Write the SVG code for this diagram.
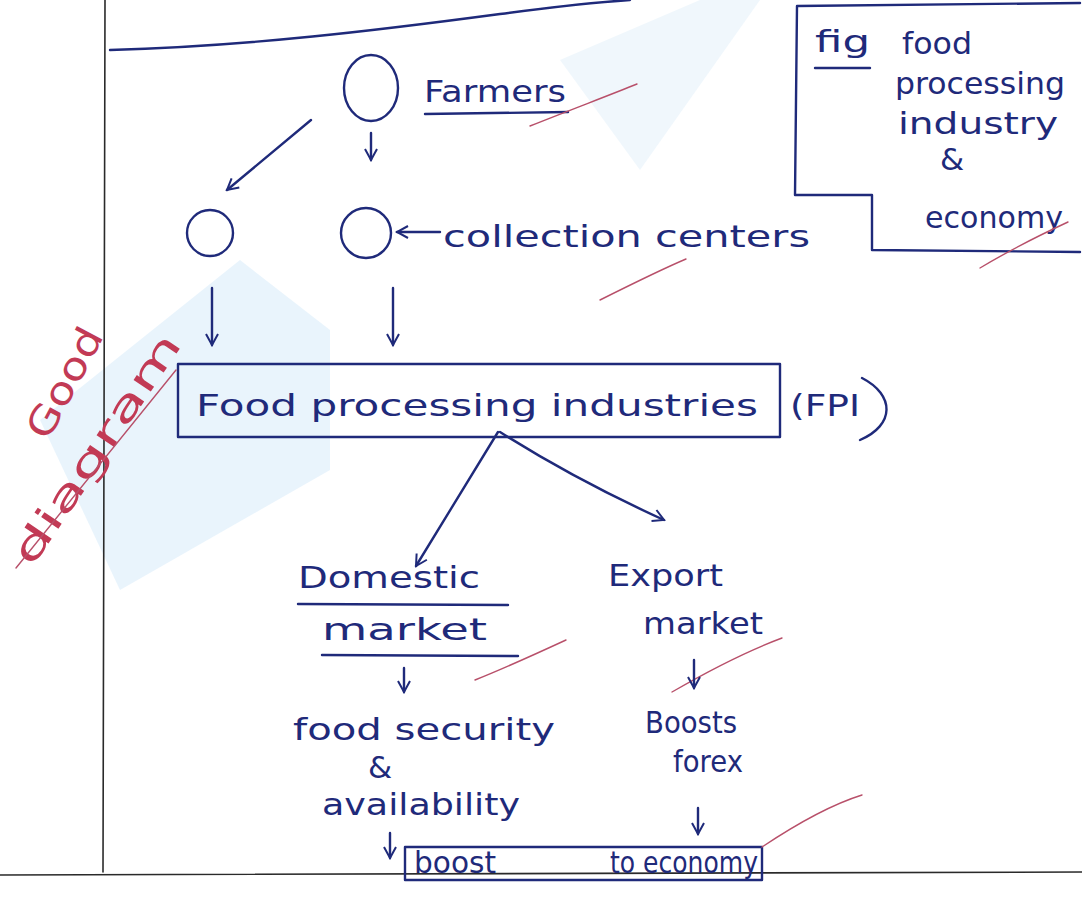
<svg xmlns="http://www.w3.org/2000/svg" width="1082" height="909" viewBox="0 0 1082 909">
  <defs>
    <style>
      .ink { fill: none; stroke: #1f2a7a; stroke-width: 2.4; stroke-linecap: round; stroke-linejoin: round; }
      .pencil { fill: none; stroke: #2a2a2a; stroke-width: 1.6; stroke-linecap: round; }
      .tick { fill: none; stroke: #b8506a; stroke-width: 1.4; stroke-linecap: round; }
      .hand { font-family: "DejaVu Sans", "Liberation Sans", sans-serif; fill: #1f2a7a; font-size: 31px; }
      .red { font-family: "DejaVu Sans", "Liberation Sans", sans-serif; fill: #c23a55; font-size: 38px; }
    </style>
    <marker id="head" viewBox="0 0 14 14" refX="12" refY="7" markerWidth="14" markerHeight="14" markerUnits="userSpaceOnUse" orient="auto">
      <path d="M1,1 L12,7 L1,13" fill="none" stroke="#1f2a7a" stroke-width="2"/>
    </marker>
  </defs>

  <rect width="1082" height="909" fill="#ffffff"/>

  <!-- faint background tint -->
  <polygon points="40,420 240,260 330,330 330,470 120,590" fill="#e3f1fb" opacity="0.8"/>
  <polygon points="560,60 700,0 760,0 640,170" fill="#eaf4fb" opacity="0.7"/>

  <!-- page rules -->
  <g id="page">
    <line class="pencil" x1="105" y1="0" x2="103" y2="872"/>
    <line class="pencil" x1="0" y1="875" x2="1082" y2="872"/>
    <path class="ink" d="M110,50 C250,46 380,30 500,14 C560,6 600,2 630,0" stroke="#333" stroke-width="2"/>
  </g>

  <!-- figure caption box -->
  <g id="caption">
    <path class="ink" d="M797,6 L1080,3 M797,6 L795,195 L872,195 L872,250 L1080,252"/>
    <text class="hand" x="815" y="52" textLength="55" lengthAdjust="spacingAndGlyphs">fig</text>
    <line class="ink" x1="815" y1="68" x2="870" y2="68"/>
    <text class="hand" x="902" y="54" textLength="70" lengthAdjust="spacingAndGlyphs">food</text>
    <text class="hand" x="895" y="94" textLength="170" lengthAdjust="spacingAndGlyphs">processing</text>
    <text class="hand" x="898" y="134" textLength="160" lengthAdjust="spacingAndGlyphs">industry</text>
    <text class="hand" x="940" y="170" font-size="24">&amp;</text>
    <text class="hand" x="925" y="228" textLength="138" lengthAdjust="spacingAndGlyphs">economy</text>
    <path class="tick" d="M980,268 C1010,250 1040,235 1068,222"/>
  </g>

  <!-- farmers -->
  <g id="farmers">
    <ellipse class="ink" cx="371" cy="88" rx="27" ry="33"/>
    <text class="hand" x="424" y="102" textLength="142" lengthAdjust="spacingAndGlyphs">Farmers</text>
    <line class="ink" x1="425" y1="114" x2="568" y2="112"/>
    <path class="tick" d="M530,126 C570,110 610,95 637,84"/>
  </g>

  <!-- collection nodes -->
  <g id="collection-left">
    <circle class="ink" cx="210" cy="233" r="23"/>
  </g>
  <g id="collection-centre">
    <circle class="ink" cx="366" cy="233" r="25"/>
    <text class="hand" x="443" y="247" textLength="367" lengthAdjust="spacingAndGlyphs">collection centers</text>
    <path class="tick" d="M600,300 C630,285 660,270 686,259"/>
  </g>

  <!-- food processing box -->
  <g id="fpi">
    <rect class="ink" x="178" y="364" width="602" height="73"/>
    <text class="hand" x="196" y="416" textLength="562" lengthAdjust="spacingAndGlyphs">Food processing industries</text>
    <text class="hand" x="790" y="416" textLength="70" lengthAdjust="spacingAndGlyphs">(FPI</text>
    <path class="ink" d="M862,378 C895,395 895,425 860,440"/>
  </g>

  <!-- domestic market branch -->
  <g id="domestic">
    <text class="hand" x="298" y="588" textLength="182" lengthAdjust="spacingAndGlyphs">Domestic</text>
    <line class="ink" x1="298" y1="604" x2="508" y2="605"/>
    <text class="hand" x="322" y="640" textLength="165" lengthAdjust="spacingAndGlyphs">market</text>
    <line class="ink" x1="322" y1="655" x2="518" y2="656"/>
    <path class="tick" d="M475,680 C505,668 540,652 566,640"/>
  </g>
  <g id="food-security">
    <text class="hand" x="293" y="740" textLength="262" lengthAdjust="spacingAndGlyphs">food security</text>
    <text class="hand" x="368" y="778" font-size="26">&amp;</text>
    <text class="hand" x="322" y="815" textLength="198" lengthAdjust="spacingAndGlyphs">availability</text>
  </g>

  <!-- export market branch -->
  <g id="export">
    <text class="hand" x="608" y="586" textLength="115" lengthAdjust="spacingAndGlyphs">Export</text>
    <text class="hand" x="643" y="634" textLength="120" lengthAdjust="spacingAndGlyphs">market</text>
    <path class="tick" d="M672,692 C710,670 750,650 782,638"/>
  </g>
  <g id="forex">
    <text class="hand" x="645" y="733" textLength="92" lengthAdjust="spacingAndGlyphs">Boosts</text>
    <text class="hand" x="673" y="772" textLength="70" lengthAdjust="spacingAndGlyphs">forex</text>
  </g>

  <!-- outcome -->
  <g id="economy">
    <rect class="ink" x="405" y="847" width="357" height="33"/>
    <text class="hand" x="414" y="873" textLength="82" lengthAdjust="spacingAndGlyphs">boost</text>
    <text class="hand" x="610" y="873" textLength="148" lengthAdjust="spacingAndGlyphs">to economy</text>
    <path class="tick" d="M762,847 C795,825 830,805 862,795"/>
  </g>

  <!-- connectors -->
  <g id="connectors">
    <line class="ink" x1="311" y1="120" x2="227" y2="190" marker-end="url(#head)"/>
    <line class="ink" x1="371" y1="133" x2="371" y2="160" marker-end="url(#head)"/>
    <line class="ink" x1="440" y1="232" x2="397" y2="232" marker-end="url(#head)"/>
    <line class="ink" x1="212" y1="288" x2="212" y2="345" marker-end="url(#head)"/>
    <line class="ink" x1="393" y1="288" x2="393" y2="345" marker-end="url(#head)"/>
    <line class="ink" x1="498" y1="432" x2="416" y2="566" marker-end="url(#head)"/>
    <path class="ink" d="M500,432 C560,470 620,500 664,520" marker-end="url(#head)"/>
    <line class="ink" x1="404" y1="668" x2="404" y2="692" marker-end="url(#head)"/>
    <line class="ink" x1="694" y1="660" x2="694" y2="688" marker-end="url(#head)"/>
    <line class="ink" x1="698" y1="808" x2="698" y2="834" marker-end="url(#head)"/>
    <line class="ink" x1="390" y1="833" x2="390" y2="858" marker-end="url(#head)"/>
  </g>

  <!-- margin remark -->
  <g id="remark">
    <text class="red" transform="translate(48,442) rotate(-62)" textLength="120" lengthAdjust="spacingAndGlyphs">Good</text>
    <text class="red" transform="translate(32,568) rotate(-56)" textLength="270" lengthAdjust="spacingAndGlyphs">diagram</text>
    <line class="tick" x1="16" y1="568" x2="176" y2="370" stroke="#7a6a80"/>
  </g>
</svg>
